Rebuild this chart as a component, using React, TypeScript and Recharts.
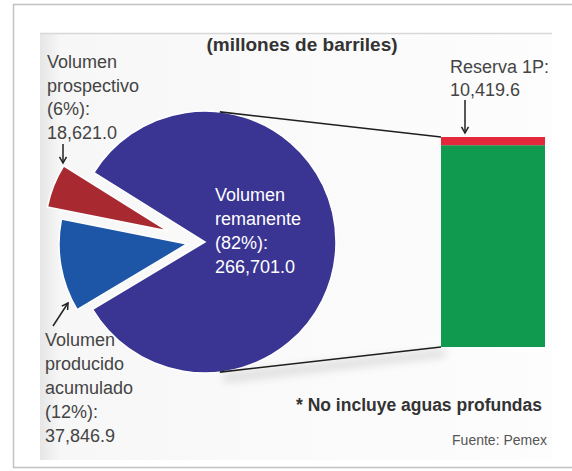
import React from 'react';
import { PieChart, Pie, Cell, BarChart, Bar, XAxis, YAxis } from 'recharts';

// ---------- data ----------
const SLICE_KEYS = ['prospectivo', 'producido', 'remanente'];
const SLICE_VALUES = [18621.0, 37846.9, 266701.0];
const SLICE_PCTS = [6, 12, 82];
const SLICE_LABEL_LINES = [
  ['Volumen', 'prospectivo'],
  ['Volumen', 'producido', 'acumulado'],
  ['Volumen', 'remanente'],
];
const BAR_CATEGORIES = ['Volumen remanente'];
const RESERVE_1P = [10419.6];
const RESERVE_LABEL = 'Reserva 1P:';
const TITLE = '(millones de barriles)';
const FOOTNOTE = '* No incluye aguas profundas';
const SOURCE = 'Fuente: Pemex';

// ---------- styles / layout ----------
const W = 572;
const H = 471;
const FONT = '"Liberation Sans", Arial, sans-serif';
const SLICE_COLORS = ['#a82a30', '#1d56a6', '#3a3592'];
const BAR_REST_COLOR = '#0f9a50';
const BAR_P1_COLOR = '#e2283a';
const START_ANGLE = 148;
const PIE_GEOM = [
  { cx: 168, cy: 231, r: 123 },
  { cx: 187, cy: 244, r: 128 },
  { cx: 205, cy: 242, r: 131 },
];

const fmt = (v: number) =>
  v.toLocaleString('en-US', { minimumFractionDigits: 1, maximumFractionDigits: 1 });

const pieData = SLICE_KEYS.map((k, i) => ({ name: k, value: SLICE_VALUES[i] }));
const barData = BAR_CATEGORIES.map((c, i) => ({
  name: c,
  rest: SLICE_VALUES[2] - RESERVE_1P[i],
  p1: RESERVE_1P[i],
}));

function tangent(px: number, py: number, sign: number) {
  const g = PIE_GEOM[2];
  const dx = px - g.cx;
  const dy = py - g.cy;
  const d = Math.sqrt(dx * dx + dy * dy);
  const th = Math.atan2(dy, dx);
  const a = Math.acos(g.r / d);
  const ang = th + sign * a;
  return { x: g.cx + g.r * Math.cos(ang), y: g.cy + g.r * Math.sin(ang) };
}

const RestShape = (props: any) => {
  const { x, y, width, height, fill } = props;
  const t = tangent(x, y + height, 1);
  return (
    <g>
      <line x1={t.x + 4} y1={t.y + 6} x2={x + 4} y2={y + height + 6} stroke="#000" strokeOpacity={0.12} strokeWidth={8} filter="url(#blur4)" />
      <rect x={x} y={y} width={width} height={height} fill={fill} />
      <line x1={t.x} y1={t.y} x2={x} y2={y + height} stroke="#1e1e1e" strokeWidth={1.6} />
    </g>
  );
};

const P1Shape = (props: any) => {
  const { x, y, width, height, fill } = props;
  const t = tangent(x, y, -1);
  return (
    <g>
      <rect x={x} y={y} width={width} height={height} fill={fill} />
      <line x1={t.x} y1={t.y} x2={x} y2={y} stroke="#1e1e1e" strokeWidth={1.6} />
    </g>
  );
};

function Lines({ x, y0, dy, lines, size, fill, weight }: any) {
  return (
    <>
      {lines.map((s: string, i: number) => (
        <text key={i} x={x} y={y0 + i * dy + 0.36 * size} fontSize={size} fill={fill} fontWeight={weight || 'normal'} fontFamily={FONT}>
          {s}
        </text>
      ))}
    </>
  );
}

function Arrow({ x1, y1, x2, y2 }: any) {
  const L = 7;
  const ux = (x1 - x2) / Math.hypot(x1 - x2, y1 - y2);
  const uy = (y1 - y2) / Math.hypot(x1 - x2, y1 - y2);
  const rot = (a: number) => ({
    x: x2 + L * (ux * Math.cos(a) - uy * Math.sin(a)),
    y: y2 + L * (ux * Math.sin(a) + uy * Math.cos(a)),
  });
  const p = rot(Math.PI / 6);
  const q = rot(-Math.PI / 6);
  return (
    <g stroke="#222" strokeWidth={1.5} fill="none">
      <line x1={x1} y1={y1} x2={x2} y2={y2} />
      <polyline points={`${p.x},${p.y} ${x2},${y2} ${q.x},${q.y}`} />
    </g>
  );
}

const layer: React.CSSProperties = { position: 'absolute', left: 0, top: 0 };

export default function App() {
  const labelColor = '#444';
  return (
    <div style={{ position: 'absolute', left: 0, top: 0, width: W, height: H, background: '#fff', overflow: 'hidden' }}>
      {/* frame */}
      <svg width={W} height={H} style={layer}>
        <defs>
          <linearGradient id="panelGrad" x1="0" x2="1" y1="0" y2="0">
            <stop offset="0" stopColor="#e6e6e6" />
            <stop offset="0.04" stopColor="#f7f7f7" />
            <stop offset="1" stopColor="#fdfdfd" />
          </linearGradient>
        </defs>
        <rect x={13.5} y={4.5} width={620} height={463} fill="#fff" stroke="#c2c2c2" strokeWidth={1.5} />
        <rect x={40} y={33} width={512} height={427} fill="url(#panelGrad)" />
        <line x1={40} y1={33.5} x2={552} y2={33.5} stroke="#d8d8d8" strokeWidth={1.5} />
      </svg>

      {/* pie */}
      <div style={layer}>
        <PieChart width={W} height={H} margin={{ top: 0, right: 0, bottom: 0, left: 0 }}>
          {PIE_GEOM.map((g, k) => (
            <Pie
              key={k}
              data={pieData}
              dataKey="value"
              nameKey="name"
              cx={g.cx}
              cy={g.cy}
              innerRadius={0}
              outerRadius={g.r}
              startAngle={START_ANGLE}
              endAngle={START_ANGLE + 360}
              isAnimationActive={false}
              stroke="none"
            >
              {pieData.map((d, i) => (
                <Cell
                  key={d.name}
                  fill={i === k ? SLICE_COLORS[i] : 'none'}
                  stroke={i === k ? '#ffffff' : 'none'}
                  strokeWidth={i === k ? 1.5 : 0}
                />
              ))}
            </Pie>
          ))}
        </PieChart>
      </div>

      {/* bar */}
      <div style={layer}>
        <BarChart width={W} height={H} data={barData} margin={{ top: 137, right: 27, bottom: 124, left: 441 }} barCategoryGap={0}>
          <defs>
            <filter id="blur4" x="-20%" y="-200%" width="140%" height="500%">
              <feGaussianBlur stdDeviation="4" />
            </filter>
          </defs>
          <XAxis dataKey="name" hide />
          <YAxis hide domain={[0, SLICE_VALUES[2]]} />
          <Bar dataKey="rest" stackId="a" fill={BAR_REST_COLOR} isAnimationActive={false} shape={RestShape} />
          <Bar dataKey="p1" stackId="a" fill={BAR_P1_COLOR} isAnimationActive={false} shape={P1Shape} />
        </BarChart>
      </div>

      {/* texts */}
      <svg width={W} height={H} style={{ ...layer, pointerEvents: 'none' }}>
        <text x={302} y={44 + 0.36 * 19} textAnchor="middle" fontSize={19} fontWeight="bold" fill="#333" fontFamily={FONT}>
          {TITLE}
        </text>
        <Lines x={47} y0={62} dy={23.4} size={18} fill={labelColor}
          lines={[...SLICE_LABEL_LINES[0], `(${SLICE_PCTS[0]}%):`, fmt(SLICE_VALUES[0])]} />
        <Lines x={45} y0={340} dy={23.8} size={18} fill={labelColor}
          lines={[...SLICE_LABEL_LINES[1], `(${SLICE_PCTS[1]}%):`, fmt(SLICE_VALUES[1])]} />
        <Lines x={215} y0={195} dy={24} size={18} fill="#ffffff"
          lines={[...SLICE_LABEL_LINES[2], `(${SLICE_PCTS[2]}%):`, fmt(SLICE_VALUES[2])]} />
        <Lines x={450} y0={67} dy={23} size={18} fill={labelColor}
          lines={[RESERVE_LABEL, fmt(RESERVE_1P[0])]} />
        <Arrow x1={63} y1={144} x2={63} y2={163} />
        <Arrow x1={465} y1={100} x2={465} y2={133} />
        <Arrow x1={53} y1={326} x2={68} y2={303} />
        <text x={296} y={405 + 0.36 * 17.5} fontSize={17.5} fontWeight="bold" fill="#333" fontFamily={FONT}>
          {FOOTNOTE}
        </text>
        <text x={547} y={440 + 0.36 * 14} textAnchor="end" fontSize={14} fill="#555" fontFamily={FONT}>
          {SOURCE}
        </text>
      </svg>
    </div>
  );
}
